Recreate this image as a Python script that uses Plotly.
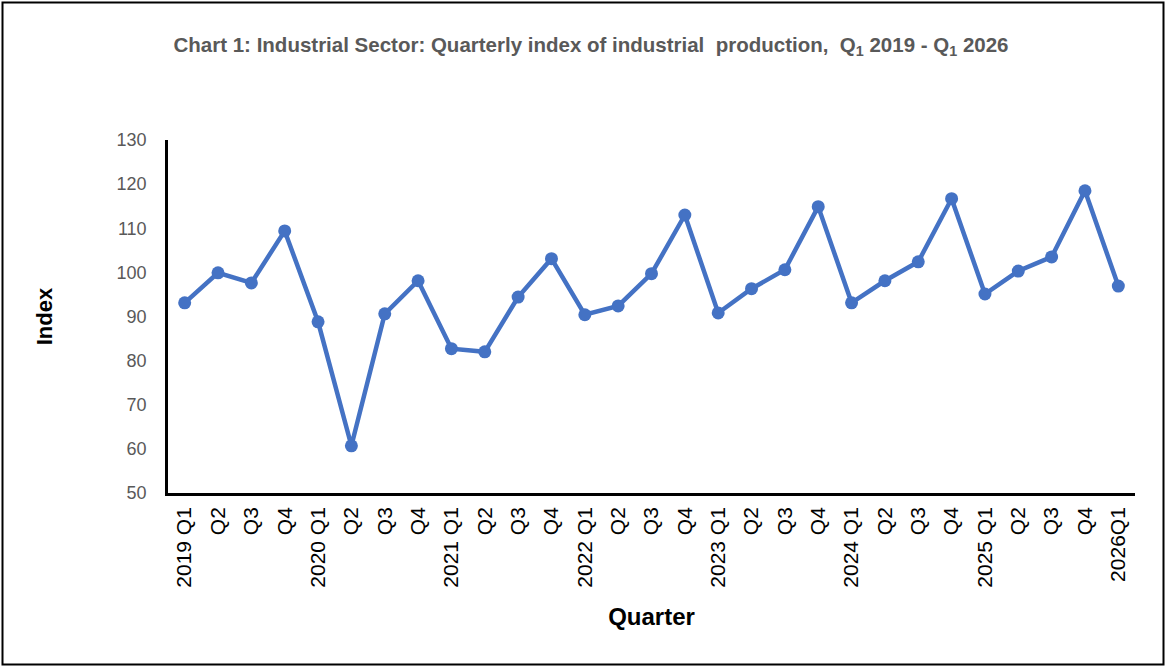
import plotly.graph_objects as go

quarters = ["2019 Q1", "Q2", "Q3", "Q4",
            "2020 Q1", "Q2", "Q3", "Q4",
            "2021 Q1", "Q2", "Q3", "Q4",
            "2022 Q1", "Q2", "Q3", "Q4",
            "2023 Q1", "Q2", "Q3", "Q4",
            "2024 Q1", "Q2", "Q3", "Q4",
            "2025 Q1", "Q2", "Q3", "Q4",
            "2026Q1"]
index_values = [93.1, 99.9, 97.6, 109.4,
                88.8, 60.7, 90.6, 98.1,
                82.7, 82.0, 94.4, 103.1,
                90.4, 92.4, 99.7, 113.0,
                90.8, 96.3, 100.6, 114.9,
                93.1, 98.1, 102.4, 116.7,
                95.1, 100.3, 103.5, 118.5,
                96.9]
y_ticks = [50, 60, 70, 80, 90, 100, 110, 120, 130]

x_pos = list(range(len(quarters)))

W, H = 1166, 667
ML, MR, MT, MB = 168, 31, 140, 174
pw, ph = W - ML - MR, H - MT - MB

fig = go.Figure()
fig.add_trace(go.Scatter(
    x=x_pos, y=index_values, mode="lines+markers",
    line=dict(color="#4472C4", width=4.5),
    marker=dict(color="#4472C4", size=13),
    showlegend=False, cliponaxis=False,
))

fig.update_layout(
    width=W, height=H,
    margin=dict(l=ML, r=MR, t=MT, b=MB),
    paper_bgcolor="white", plot_bgcolor="white",
    title=dict(
        text="Chart 1: Industrial Sector: Quarterly index of industrial  production,  Q<sub>1</sub> 2019 - Q<sub>1</sub> 2026",
        x=591 / W, xanchor="center", y=1 - 45 / H, yanchor="middle",
        font=dict(family="Liberation Sans Narrow, Arial Narrow, Liberation Sans, sans-serif",
                  size=20.5, color="#595959", weight="bold"),
    ),
    xaxis=dict(
        range=[-0.5, len(quarters) - 0.5],
        tickmode="array", tickvals=x_pos, ticktext=quarters,
        tickangle=-90, showgrid=False, zeroline=False,
        showline=True, linecolor="black", linewidth=2.5,
        ticks="outside", ticklen=3, tickcolor="rgba(0,0,0,0)",
        tickfont=dict(family="Liberation Sans, Arial, sans-serif", size=21, color="black"),
        title=dict(text="<b>Quarter</b>", standoff=22,
                   font=dict(family="Liberation Sans Narrow, Liberation Sans, sans-serif", size=24, color="black")),
    ),
    yaxis=dict(
        range=[50, 130], tickmode="array", tickvals=y_ticks,
        showgrid=False, zeroline=False,
        showline=True, linecolor="black", linewidth=2.5,
        ticks="outside", ticklen=15, tickcolor="rgba(0,0,0,0)",
        tickfont=dict(family="Liberation Sans, Arial, sans-serif", size=18, color="#595959"),
        title=dict(text="<b>Index</b>", standoff=58,
                   font=dict(family="Liberation Sans, Arial, sans-serif", size=22, color="black")),
    ),
    shapes=[dict(
        type="rect", xref="paper", yref="paper",
        x0=(2.5 - ML) / pw, x1=(W - 2.5 - ML) / pw,
        y0=(MT + ph - (H - 2.5)) / ph, y1=(MT + ph - 2.5) / ph,
        line=dict(color="black", width=2), fillcolor="rgba(0,0,0,0)",
        layer="below",
    )],
)

fig.write_html("out.html",
               config={"displayModeBar": False},
               post_script="document.body.style.margin='0px';document.body.style.padding='0px';")
